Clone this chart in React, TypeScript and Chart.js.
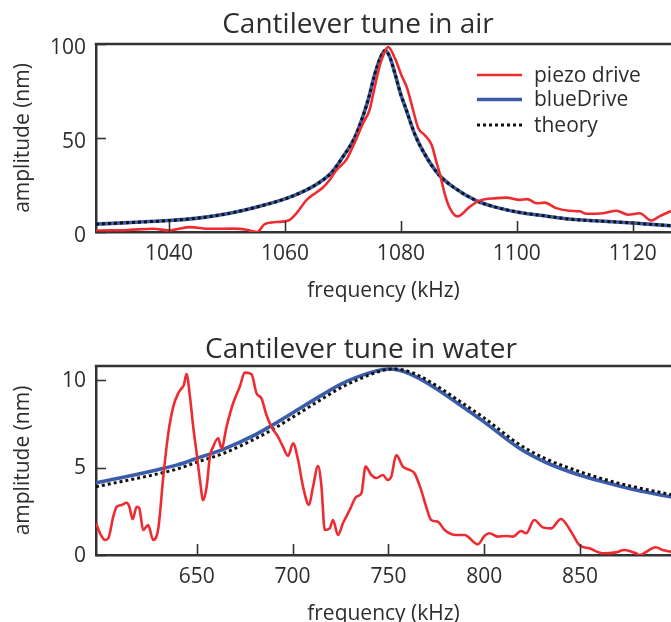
import React, { useEffect, useRef } from "react";
import { Chart, registerables } from "chart.js";

Chart.register(...registerables);

const FONT_FAMILY = '"Open Sans", "Noto Sans", "DejaVu Sans", sans-serif';
const TEXT_COLOR = "#2d2d2d";
const AXIS_COLOR = "#333333";
const PIEZO_COLOR = "#ee2b30";
const BLUE_COLOR = "#3b5ca9";
const THEORY_COLOR = "#111111";

const SERIES_LABELS = ["piezo drive", "blueDrive", "theory"];
const AIR_TITLE = "Cantilever tune in air";
const WATER_TITLE = "Cantilever tune in water";
const X_TITLE = "frequency (kHz)";
const Y_TITLE = "amplitude (nm)";

const AIR_X_TICKS = [1040, 1060, 1080, 1100, 1120];
const AIR_Y_TICKS = [0, 50, 100];
const WATER_X_TICKS = [650, 700, 750, 800, 850];
const WATER_Y_TICKS = [0, 5, 10];

// ---- air: piezo drive ----
const AIR_PIEZO_FREQ = [
  1027.4, 1030, 1033, 1037.3, 1040, 1041.5, 1043.6, 1047, 1051, 1053.4, 1054.6, 1055.2,
  1056.5, 1058.6, 1060.6, 1062, 1063.7, 1065.4, 1066.5, 1067.7, 1068.9, 1070.6, 1071.8,
  1073.5, 1074.6, 1075.4, 1076.4, 1077.1, 1077.8, 1079.0, 1080.1, 1081.1, 1082.1, 1083.0,
  1084.1, 1085.3, 1086.1, 1086.8, 1087.6, 1088.5, 1089.8, 1091.9, 1093.6, 1096.5, 1098.2,
  1100.5, 1101.8, 1103.4, 1104.8, 1106.8, 1109.1, 1110.9, 1112.0, 1114.9, 1117.2, 1119.2,
  1121.2, 1123.2, 1124.6, 1126.6,
];
const AIR_PIEZO_AMP = [
  0.8, 0.9, 1.1, 1.7, 0.8, 1.6, 2.6, 1.7, 1.8, 1.2, 0.2, 0.0,
  4.2, 5.3, 6.1, 10, 17, 21, 23.5, 27.7, 33, 38.5, 46,
  58, 65, 76, 89, 95, 98.4, 92.2, 83.4, 76.3, 64.9, 55.2,
  51.6, 46.4, 37.6, 30, 19.9, 12.3, 8.3, 13.5, 16.7, 18.0, 18.3,
  17.1, 17.5, 15.3, 15.6, 12.7, 11.3, 11.0, 9.7, 10.0, 11.3, 9.2,
  10.0, 6.1, 8.3, 11.2,
];

// ---- air: blueDrive ----
const AIR_BLUE_FREQ = [
  1027.4, 1033, 1040, 1045, 1050, 1055, 1060, 1063, 1066, 1068, 1070, 1072, 1073.5,
  1074.5, 1075.5, 1076.5, 1077.3, 1078.1, 1079, 1080, 1080.7, 1082.4, 1084.1, 1086.4,
  1089, 1093, 1096, 1100.5, 1105, 1109, 1115, 1120, 1126.6,
];
const AIR_BLUE_AMP = [
  4.2, 5.0, 6.1, 7.4, 9.7, 13.2, 17.6, 21.3, 26.5, 31.5, 40, 50, 62,
  72, 84, 93, 96.6, 93, 84, 73, 67, 52, 41.5, 31,
  24, 16.7, 13.5, 10.4, 8.5, 6.9, 5.7, 4.8, 3.3,
];

// ---- air: theory ----
const AIR_THEORY_FREQ = [
  1027.4, 1033, 1040, 1045, 1050, 1055, 1060, 1063, 1066, 1068, 1070, 1072, 1073.5,
  1074.5, 1075.5, 1076.5, 1077.3, 1078.1, 1079, 1080, 1080.7, 1082.4, 1084.1, 1086.4,
  1089, 1093, 1096, 1100.5, 1105, 1109, 1115, 1120, 1126.6,
];
const AIR_THEORY_AMP = [
  4.2, 5.0, 6.1, 7.4, 9.7, 13.2, 17.6, 21.3, 26.5, 31.5, 40, 50, 62,
  72, 84, 93, 96.6, 93, 84, 73, 67, 52, 41.5, 31,
  24, 16.7, 13.5, 10.4, 8.5, 6.9, 5.7, 4.8, 3.3,
];

// ---- water: piezo drive ----
const WATER_PIEZO_FREQ = [
  597.5, 599.6, 602.2, 603.9, 606.5, 608.3, 610.9, 613.5, 614.9, 616.6, 618.7, 620.1,
  622.1, 624.7, 627.3, 630.0, 632.6, 635.2, 637.8, 640.4, 642.1, 643.3, 644.7, 646.5,
  648.2, 650.0, 651.7, 653.4, 655.2, 656.9, 658.6, 661.2, 663.0, 665.6, 669.0, 672.5,
  675.1, 678.6, 681.2, 683.8, 686.4, 689.0, 692.4, 695.0, 697.7, 700.3, 702.9, 705.5,
  708.6, 710.7, 713.3, 715.1, 716.8, 719.4, 721.1, 723.7, 726.3, 729.8, 733.3, 735.9,
  738.1, 741.1, 743.7, 747.1, 749.7, 751.5, 754.1, 757.6, 761.0, 763.6, 767.1, 769.7,
  772.3, 775.8, 779.3, 785.4, 789.7, 796.6, 800.1, 802.7, 807.0, 811.4, 814.9, 819.2,
  821.8, 826.1, 830.5, 834.8, 840.0, 845.3, 849.6, 854.8, 861.7, 868.7, 873.0, 879.1,
  880.8, 889.5, 892.9, 897.5,
];
const WATER_PIEZO_AMP = [
  1.81, 1.24, 0.86, 0.95, 2.19, 2.76, 2.86, 2.99, 2.76, 2.04, 2.76, 2.67,
  1.43, 1.71, 0.86, 1.52, 4.48, 6.95, 8.48, 9.24, 9.52, 9.71, 10.34, 9.05,
  7.33, 5.81, 4.29, 3.14, 3.9, 5.62, 6.19, 6.67, 6.1, 7.33, 8.67, 9.62,
  10.42, 10.34, 9.24, 8.95, 8.0, 7.33, 6.76, 6.19, 5.66, 6.38, 5.43, 3.9,
  2.86, 3.9, 5.09, 3.9, 1.43, 1.52, 2.0, 1.14, 1.81, 2.57, 3.33, 3.52,
  5.05, 4.57, 4.4, 4.57, 4.29, 4.48, 5.71, 5.05, 4.86, 4.67, 3.71, 2.76,
  2.0, 1.9, 1.43, 1.14, 1.14, 0.61, 1.09, 1.24, 1.05, 1.09, 1.05, 1.37,
  1.24, 2.0, 1.58, 1.52, 2.06, 1.33, 0.57, 0.38, 0.1, 0.15, 0.29, 0.1,
  0.0, 0.44, 0.29, 0.19,
];

// ---- water: blueDrive ----
const WATER_BLUE_FREQ = [
  597.5, 611.7, 629.1, 640, 650, 663.8, 681.2, 690, 699.7, 715.9, 725, 733.3, 747.1,
  750.5, 757.6, 765, 775, 787, 799.7, 818.3, 832, 849.6, 865, 879.1, 897.5,
];
const WATER_BLUE_AMP = [
  4.13, 4.44, 4.86, 5.15, 5.52, 6.04, 6.91, 7.45, 8.1, 9.18, 9.75, 10.15, 10.6,
  10.63, 10.5, 10.15, 9.5, 8.6, 7.62, 6.1, 5.3, 4.57, 4.1, 3.71, 3.32,
];

// ---- water: theory ----
const WATER_THEORY_FREQ = [
  597.5, 611.7, 629.1, 640, 650, 663.8, 681.2, 690, 699.7, 715.9, 725, 733.3, 747.1,
  752.5, 757.6, 765, 775, 787, 799.7, 818.3, 832, 849.6, 865, 879.1, 897.5,
];
const WATER_THEORY_AMP = [
  3.9, 4.22, 4.62, 4.92, 5.3, 5.8, 6.68, 7.2, 7.85, 8.95, 9.55, 9.98, 10.55,
  10.63, 10.58, 10.3, 9.68, 8.8, 7.85, 6.32, 5.5, 4.77, 4.25, 3.87, 3.45,
];

type Pt = { x: number; y: number };
const zip = (xs: number[], ys: number[]): Pt[] => xs.map((x, i) => ({ x, y: ys[i] }));

interface PanelCfg {
  title: string;
  titleX: number;
  titleBaseline: number;
  xMin: number;
  xMax: number;
  yMin: number;
  yMax: number;
  xTicks: number[];
  yTicks: number[];
  piezo: Pt[];
  blue: Pt[];
  theory: Pt[];
  padTop: number;
  xAxisHeight: number;
  xTitlePadBottom: number;
  yLabelOffset: number;
  legend: boolean;
  height: number;
}

const decorPlugin = {
  id: "decor",
  afterDatasetsDraw(chart: any, _args: any, opts: any) {
    const { ctx, chartArea: a } = chart;
    const xs = chart.scales.x;
    const ys = chart.scales.y;
    ctx.save();
    // top frame line
    ctx.strokeStyle = AXIS_COLOR;
    ctx.lineWidth = 2.5;
    ctx.beginPath();
    ctx.moveTo(a.left - 1.25, a.top);
    ctx.lineTo(a.right, a.top);
    ctx.stroke();
    // inward tick marks
    ctx.lineWidth = 1.6;
    xs.ticks.forEach((t: any) => {
      const px = Math.round(xs.getPixelForValue(t.value)) + 0.5;
      ctx.beginPath();
      ctx.moveTo(px, a.bottom);
      ctx.lineTo(px, a.bottom - 11);
      ctx.stroke();
    });
    ys.ticks.forEach((t: any) => {
      const py = Math.round(ys.getPixelForValue(t.value)) + 0.5;
      ctx.beginPath();
      ctx.moveTo(a.left, py);
      ctx.lineTo(a.left + 10, py);
      ctx.stroke();
    });
    // legend inside the plot area
    if (opts.legend) {
      const rows = [31, 55.5, 81];
      ctx.font = `21px ${FONT_FAMILY}`;
      ctx.textAlign = "left";
      ctx.textBaseline = "middle";
      chart.data.datasets.forEach((ds: any, i: number) => {
        const y = a.top + rows[i];
        ctx.strokeStyle = ds.borderColor;
        ctx.lineWidth = ds.borderWidth;
        ctx.setLineDash(ds.borderDash || []);
        ctx.beginPath();
        ctx.moveTo(a.left + 381, y);
        ctx.lineTo(a.left + 426, y);
        ctx.stroke();
        ctx.setLineDash([]);
        ctx.fillStyle = TEXT_COLOR;
        ctx.fillText(ds.label, a.left + 438, y + 1);
      });
    }
    // chart title
    ctx.font = `28px ${FONT_FAMILY}`;
    ctx.fillStyle = TEXT_COLOR;
    ctx.textAlign = "center";
    ctx.textBaseline = "alphabetic";
    ctx.fillText(opts.title, opts.titleX, opts.titleBaseline);
    ctx.restore();
  },
};

function Panel({ cfg }: { cfg: PanelCfg }) {
  const ref = useRef<HTMLCanvasElement | null>(null);
  useEffect(() => {
    if (!ref.current) return;
    Chart.defaults.font.family = FONT_FAMILY;
    const chart = new Chart(ref.current, {
      type: "line",
      data: {
        datasets: [
          {
            label: SERIES_LABELS[0],
            data: cfg.piezo,
            borderColor: PIEZO_COLOR,
            borderWidth: 2.6,
            pointRadius: 0,
            cubicInterpolationMode: "monotone",
            order: 0,
          },
          {
            label: SERIES_LABELS[1],
            data: cfg.blue,
            borderColor: BLUE_COLOR,
            borderWidth: 3.6,
            pointRadius: 0,
            cubicInterpolationMode: "monotone",
            order: 2,
          },
          {
            label: SERIES_LABELS[2],
            data: cfg.theory,
            borderColor: THEORY_COLOR,
            borderWidth: 3,
            borderDash: [3, 3],
            pointRadius: 0,
            cubicInterpolationMode: "monotone",
            order: 1,
          },
        ],
      } as any,
      options: {
        animation: false,
        responsive: true,
        maintainAspectRatio: false,
        events: [],
        layout: { padding: { top: cfg.padTop, left: 0, right: 0, bottom: 0 } },
        plugins: {
          legend: { display: false },
          tooltip: { enabled: false },
          title: { display: false },
          decor: {
            legend: cfg.legend,
            title: cfg.title,
            titleX: cfg.titleX,
            titleBaseline: cfg.titleBaseline,
          },
        } as any,
        scales: {
          x: {
            type: "linear",
            min: cfg.xMin,
            max: cfg.xMax,
            afterBuildTicks: (s: any) => {
              s.ticks = cfg.xTicks.map((v) => ({ value: v }));
            },
            afterFit: (s: any) => {
              s.height = cfg.xAxisHeight;
            },
            grid: { display: false, drawTicks: false },
            border: { display: true, color: AXIS_COLOR, width: 2.5 },
            ticks: {
              color: TEXT_COLOR,
              font: { size: 21 },
              padding: 9,
              autoSkip: false,
              maxRotation: 0,
              callback: (v: any) => String(v),
            },
            title: {
              display: true,
              text: X_TITLE,
              color: TEXT_COLOR,
              font: { size: 21 },
              padding: { top: 0, bottom: cfg.xTitlePadBottom },
            },
          },
          y: {
            type: "linear",
            min: cfg.yMin,
            max: cfg.yMax,
            afterBuildTicks: (s: any) => {
              s.ticks = cfg.yTicks.map((v) => ({ value: v }));
            },
            afterFit: (s: any) => {
              s.width = 96;
            },
            grid: { display: false, drawTicks: false },
            border: { display: true, color: AXIS_COLOR, width: 2.5 },
            ticks: {
              color: TEXT_COLOR,
              font: { size: 21 },
              padding: 10,
              labelOffset: cfg.yLabelOffset,
              autoSkip: false,
              callback: (v: any) => String(v),
            },
            title: {
              display: true,
              text: Y_TITLE,
              color: TEXT_COLOR,
              font: { size: 21 },
              padding: { top: 10, bottom: 0 },
            },
          },
        },
      } as any,
      plugins: [decorPlugin as any],
    });
    return () => chart.destroy();
  }, [cfg]);
  return (
    <div style={{ position: "relative", width: 671, height: cfg.height }}>
      <canvas ref={ref} />
    </div>
  );
}

const AIR_CFG: PanelCfg = {
  title: AIR_TITLE,
  titleX: 358,
  titleBaseline: 33,
  xMin: 1027.4,
  xMax: 1126.6,
  yMin: 0,
  yMax: 100,
  xTicks: AIR_X_TICKS,
  yTicks: AIR_Y_TICKS,
  piezo: zip(AIR_PIEZO_FREQ, AIR_PIEZO_AMP),
  blue: zip(AIR_BLUE_FREQ, AIR_BLUE_AMP),
  theory: zip(AIR_THEORY_FREQ, AIR_THEORY_AMP),
  padTop: 44,
  xAxisHeight: 78,
  xTitlePadBottom: 6,
  yLabelOffset: 4,
  legend: true,
  height: 310,
};

const WATER_CFG: PanelCfg = {
  title: WATER_TITLE,
  titleX: 361,
  titleBaseline: 47.5,
  xMin: 597.5,
  xMax: 897.4,
  yMin: 0,
  yMax: 10.8,
  xTicks: WATER_X_TICKS,
  yTicks: WATER_Y_TICKS,
  piezo: zip(WATER_PIEZO_FREQ, WATER_PIEZO_AMP),
  blue: zip(WATER_BLUE_FREQ, WATER_BLUE_AMP),
  theory: zip(WATER_THEORY_FREQ, WATER_THEORY_AMP),
  padTop: 56,
  xAxisHeight: 85,
  xTitlePadBottom: 13,
  yLabelOffset: 1,
  legend: false,
  height: 330,
};

export default function App() {
  return (
    <div
      style={{
        position: "fixed",
        left: 0,
        top: 0,
        width: 671,
        height: 622,
        overflow: "hidden",
        background: "#ffffff",
      }}
    >
      <Panel cfg={AIR_CFG} />
      <Panel cfg={WATER_CFG} />
    </div>
  );
}
